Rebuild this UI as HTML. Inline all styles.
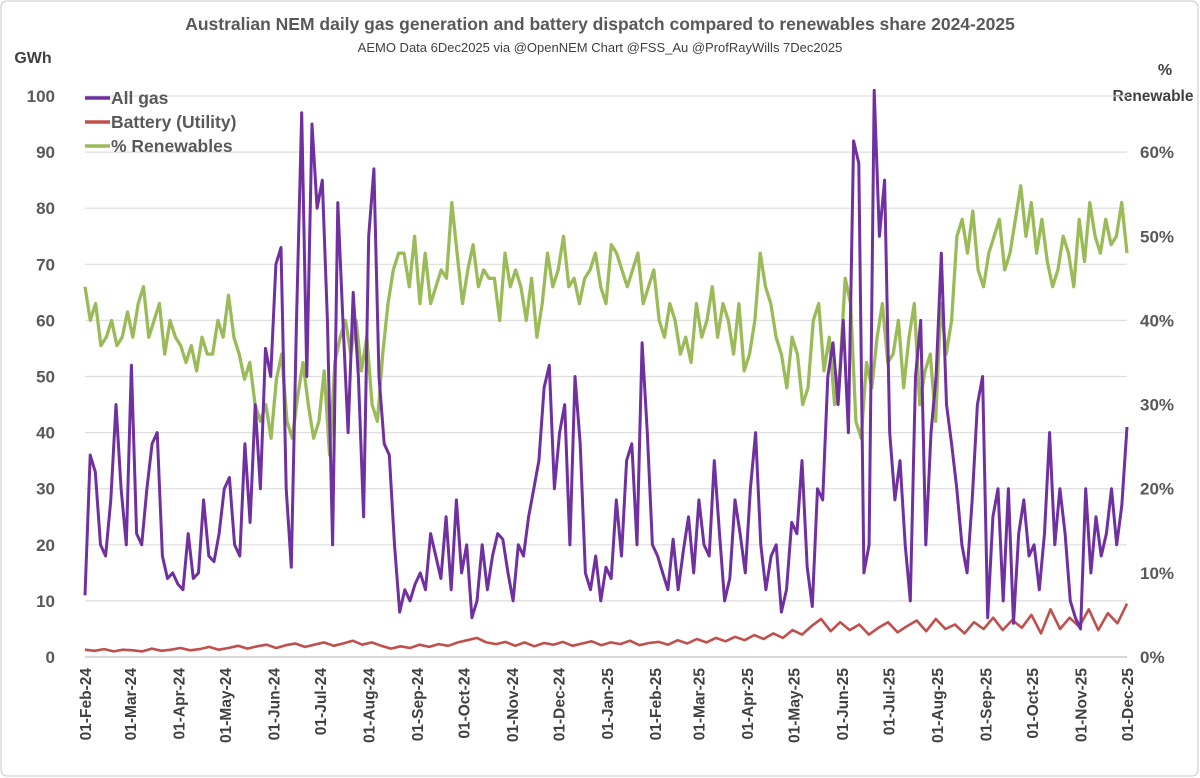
<!DOCTYPE html>
<html><head><meta charset="utf-8"><style>
body{margin:0;background:#fff;}
svg{display:block;font-family:"Liberation Sans",sans-serif;}
</style></head><body>
<svg id="chart" width="1200" height="778">
<rect x="1" y="1" width="1197" height="775" rx="6" fill="#fff" stroke="#c8c8c8"/>
<text x="600" y="30" text-anchor="middle" font-size="17.5" font-weight="bold" fill="#595959">Australian NEM daily gas generation and battery dispatch compared to renewables share 2024-2025</text>
<text x="600" y="52" text-anchor="middle" font-size="13" fill="#404040">AEMO Data 6Dec2025  via @OpenNEM Chart @FSS_Au @ProfRayWills 7Dec2025</text>
<text x="33" y="63" text-anchor="middle" font-size="16" font-weight="bold" fill="#404040">GWh</text>
<text x="1165" y="75" text-anchor="middle" font-size="16" font-weight="bold" fill="#404040">%</text>
<text x="1153" y="101" text-anchor="middle" font-size="15.5" font-weight="bold" fill="#404040">Renewable</text>
<g id="grid"></g><g id="ticks"></g><g id="series"></g>
<g>
<line x1="85" y1="98" x2="110" y2="98" stroke="#7030a0" stroke-width="3.5"/>
<text x="111" y="104" font-size="17.5" font-weight="bold" fill="#595959">All gas</text>
<line x1="85" y1="122" x2="110" y2="122" stroke="#c0504d" stroke-width="3.5"/>
<text x="111" y="128" font-size="17.5" font-weight="bold" fill="#595959">Battery (Utility)</text>
<line x1="85" y1="146" x2="110" y2="146" stroke="#9bbb59" stroke-width="3.5"/>
<text x="111" y="152" font-size="17.5" font-weight="bold" fill="#595959">% Renewables</text>
</g>
</svg>
<script>
const monthLabels=["01-Feb-24","01-Mar-24","01-Apr-24","01-May-24","01-Jun-24","01-Jul-24","01-Aug-24","01-Sep-24","01-Oct-24","01-Nov-24","01-Dec-24","01-Jan-25","01-Feb-25","01-Mar-25","01-Apr-25","01-May-25","01-Jun-25","01-Jul-25","01-Aug-25","01-Sep-25","01-Oct-25","01-Nov-25","01-Dec-25"];
const monthDays=[0,29,60,90,121,151,182,213,243,274,304,335,366,394,425,455,486,516,547,578,608,639,669];
const leftTicks=[0,10,20,30,40,50,60,70,80,90,100];
const rightTicks=["0%","10%","20%","30%","40%","50%","60%"];
const gasValues=[11,36,33,20,18,28,45,30,20,52,22,20,30,38,40,18,14,15,13,12,22,14,15,28,18,17,22,30,32,20,18,38,24,45,30,55,50,70,73,30,16,60,97,50,95,80,85,60,20,81,60,40,65,50,25,75,87,50,38,36,20,8,12,10,13,15,12,22,18,14,25,12,28,15,20,7,10,20,12,18,22,21,15,10,20,18,25,30,35,48,52,30,40,45,20,50,38,15,12,18,10,16,14,28,18,35,38,20,56,40,20,18,15,12,21,12,19,25,15,28,20,18,35,22,10,14,28,22,15,30,40,20,12,18,20,8,12,24,22,35,16,9,30,28,50,56,45,60,40,92,88,15,20,101,75,85,40,28,35,20,10,50,60,20,40,50,72,45,38,30,20,15,28,45,50,7,25,30,10,30,6,22,28,18,20,12,22,40,20,30,22,10,7,5,30,15,25,18,22,30,20,27,41];
const renewValues=[44,40,42,37,38,40,37,38,41,38,42,44,38,40,42,36,40,38,37,35,37,34,38,36,36,40,38,43,38,36,33,35,30,28,30,26,33,36,28,26,31,35,30,26,28,34,24,35,38,40,36,40,34,38,30,28,36,42,46,48,48,44,50,42,48,42,44,46,45,54,48,42,46,49,44,46,45,45,40,48,44,46,44,40,45,38,42,48,44,46,50,44,45,42,45,46,48,44,42,49,48,46,44,46,48,42,44,46,40,38,42,40,36,38,35,42,38,40,44,38,42,40,36,42,34,36,40,48,44,42,38,36,32,38,36,30,32,40,42,34,38,30,34,45,42,28,26,35,32,38,42,35,36,40,32,38,42,30,34,36,28,42,36,40,50,52,48,53,46,44,48,50,52,46,48,52,56,50,54,48,52,47,44,46,50,48,44,52,47,54,50,48,52,49,50,54,48];
const batteryValues=[1.3,1.1,1.4,1.0,1.3,1.2,1.0,1.5,1.1,1.3,1.6,1.2,1.4,1.8,1.3,1.6,2.0,1.5,1.9,2.2,1.6,2.1,2.4,1.8,2.2,2.6,2.0,2.4,2.9,2.2,2.6,2.0,1.5,1.9,1.6,2.2,1.8,2.3,2.0,2.6,3.0,3.4,2.6,2.3,2.7,2.0,2.6,1.9,2.5,2.2,2.7,2.0,2.4,2.8,2.1,2.6,2.3,2.9,2.1,2.5,2.7,2.2,3.0,2.4,3.2,2.6,3.4,2.8,3.6,3.0,3.9,3.2,4.2,3.4,4.8,4.0,5.5,6.8,4.6,6.2,4.8,5.8,4.0,5.2,6.2,4.4,5.5,6.5,4.6,6.8,5.0,5.8,4.2,6.2,5.0,7.0,4.8,6.6,5.2,7.5,4.2,8.5,5.0,7.0,5.4,8.5,4.8,7.8,6.0,9.5];
const X0=85,X1=1127,Y0=657,YT=96,DAYS=669;
const xs=d=>X0+(X1-X0)*d/DAYS;
const yL=v=>Y0-(Y0-YT)*v/100;
const yR=p=>yL(p*1.5);
const NS="http://www.w3.org/2000/svg";
function mk(tag,parent,attrs){const e=document.createElementNS(NS,tag);for(const k in attrs)e.setAttribute(k,attrs[k]);parent.appendChild(e);return e;}
const grid=document.getElementById('grid'),ticks=document.getElementById('ticks'),series=document.getElementById('series');
leftTicks.forEach(v=>{
 const l=mk('line',grid,{x1:X0,x2:X1,y1:yL(v),y2:yL(v),stroke:v===0?'#bfbfbf':'#dedede','stroke-width':1.2});
 
 
 const t=mk('text',ticks,{x:55,y:yL(v)+6,'text-anchor':'end','font-size':17,'font-weight':'bold',fill:'#595959'});
 t.textContent=v;
 
 
});
rightTicks.forEach((s,i)=>{
 const t=mk('text',ticks,{x:1140,y:yR(i*10)+6,'font-size':17,'font-weight':'bold',fill:'#595959'});
 t.textContent=s;
 
 
});
monthLabels.forEach((s,i)=>{
 const x=xs(monthDays[i]);
 const t=mk('text',ticks,{x:0,y:0,transform:`translate(${x+6},668) rotate(-90)`,'text-anchor':'end','font-size':15.5,'font-weight':'bold',fill:'#404040'});
 t.textContent=s;
 
 
});
function line(vals,yf,color,w,name){
 const n=vals.length;
 const pts=vals.map((v,i)=>xs(DAYS*i/(n-1)).toFixed(1)+','+yf(v).toFixed(1)).join(' ');
 const p=mk('polyline',series,{points:pts,fill:'none',stroke:color,'stroke-width':w,'stroke-linejoin':'round'});
 
 
}
line(renewValues,yR,'#9bbb59',3.3,'renewables-line');
line(batteryValues,yL,'#c0504d',2.6,'battery-line');
line(gasValues,yL,'#7030a0',3,'gas-line');
</script>
</body></html>
